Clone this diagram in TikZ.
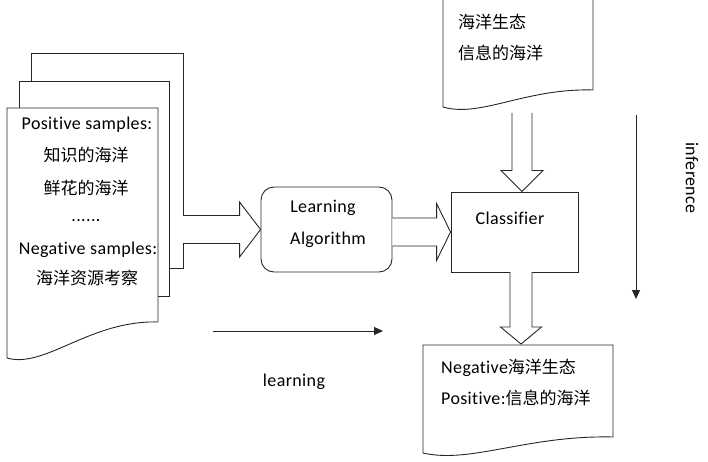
\documentclass[tikz,border=0pt]{standalone}
\usepackage{fontspec}
\setmainfont{Carlito}[Ligatures=NoCommon, LetterSpace=2]
\newfontfamily\cjk{Noto Sans CJK SC}
\usetikzlibrary{calc,arrows.meta}
\tikzset{
  ln/.style={draw=black!85, line width=0.9pt},
  page/.style={ln, fill=white, line join=miter},
  blk/.style={ln, fill=white, line join=miter},
  txt/.style={font=\fontsize{18}{21}\selectfont, inner sep=0pt},
  ctxt/.style={font=\fontsize{17}{20}\selectfont\cjk, inner sep=0pt},
}
% block arrow: #1 start (axis), #2 tip, #3 shaft half width, #4 head half width, #5 head length
\newcommand\blockarrow[5]{%
  \coordinate (ba-base) at ($(#2)!#5pt!(#1)$);
  \draw[blk] ($(#1)!#3pt!90:(#2)$) -- ($(ba-base)!#3pt!-90:(#1)$) -- ($(ba-base)!#4pt!-90:(#1)$)
    -- (#2) -- ($(ba-base)!#4pt!90:(#1)$) -- ($(ba-base)!#3pt!90:(#1)$) -- ($(#1)!#3pt!-90:(#2)$);
}
% document shape: #1 left x, #2 top y, #3 right x, #4 right-bottom y, #5 left-bottom y
\newcommand\docshape[5]{%
  \draw[page] (#1,#2) -- (#3,#2) -- (#3,#4)
    .. controls ({#1+0.55*(#3-#1)},{#4-2}) and ({#1+0.25*(#3-#1)},{#5+11}) .. (#1,#5) -- cycle;
}
\begin{document}
\begin{tikzpicture}[x=1pt,y=-1pt]
\useasboundingbox (0,0) rectangle (708,462);

% stack of sample pages
\draw[page] (31,53) rectangle (183,268);
\draw[page] (19,81) rectangle (169,296);
\docshape{7}{108}{158}{322}{358}
\node[txt] (p1) at (87,125) {Positive samples:};
\node[ctxt] (p2) at (86,155) {知识的海洋};
\node[ctxt] (p3) at (86,188) {鲜花的海洋};
\node[txt] (p4) at (86,221) {......};
\node[txt] (p5) at (88,250) {Negative samples:};
\node[ctxt] (p6) at (87,278) {海洋资源考察};
\coordinate (stackR) at (183,229.5);

% learning algorithm
\node[ln, rounded corners=13pt, minimum width=131pt, minimum height=85pt, inner sep=0pt] (learn) at (326.5,229.5) {};
\node[txt] (learn1) at (323,208) {Learning};
\node[txt] (learn2) at (328,240) {Algorithm};

% classifier
\node[ln, minimum width=127pt, minimum height=80pt, inner sep=0pt] (cls) at (514.5,232) {};
\node[txt] (clstxt) at (510,218) {Classifier};

% top input document
\docshape{443}{-3}{593}{90}{107}
\node[ctxt, anchor=west] (in1) at (458,22) {海洋生态};
\node[ctxt, anchor=west] (in2) at (458,53) {信息的海洋};
\coordinate (inB) at (522,113);

% result document
\docshape{423}{345}{613}{437}{453}
\node[txt, anchor=west] (out1) at (441,368) {Negative{\fontsize{17}{20}\selectfont\cjk 海洋生态}};
\node[txt, anchor=west] (out2) at (441,398) {Positive:{\fontsize{17}{20}\selectfont\cjk 信息的海洋}};
\coordinate (clsB) at (521,272);
\coordinate (outT) at (521,344);

% block arrows
\blockarrow{stackR}{learn.west}{14}{27.5}{21}
\blockarrow{learn.east |- cls.west}{cls.west}{14}{28.5}{14}
\blockarrow{inB}{inB |- cls.north}{10}{21}{21}
\blockarrow{clsB}{outT}{11}{20.5}{17}

% learning arrow
\coordinate (la) at (213,331);
\coordinate (lb) at (383,331);
\draw[ln, -{Triangle[length=9pt,width=8pt]}] (la) -- (lb);
\node[txt] (learnlbl) at (294,382) {learning};

% inference arrow
\coordinate (ia) at (636,115);
\coordinate (ib) at (636,299);
\draw[ln, -{Triangle[length=9pt,width=8pt]}] (ia) -- (ib);
\node[txt, rotate=-90] (inflbl) at (692,178) {inference};
\end{tikzpicture}
\end{document}
